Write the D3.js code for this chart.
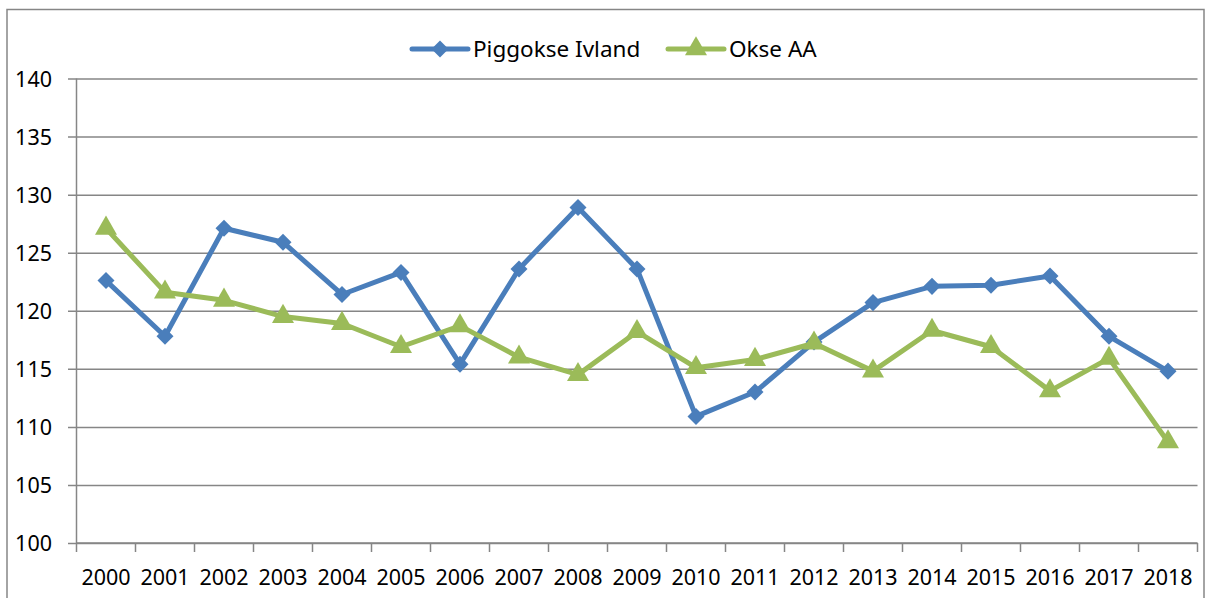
<!DOCTYPE html>
<html>
<head>
<meta charset="utf-8">
<script src="https://cdn.jsdelivr.net/npm/d3@7"></script>
<style>
  body { margin: 0; background: #fff; }
  svg { display: block; }
  text { font-family: "Noto Sans", "Open Sans", sans-serif; fill: #000; }
</style>
</head>
<body>
<svg width="1213" height="598"></svg>
<script>
const width = 1213;
const height = 598;

var years = ["2000","2001","2002","2003","2004","2005","2006","2007","2008","2009",
             "2010","2011","2012","2013","2014","2015","2016","2017","2018"];
var piggokse = [122.6, 117.8, 127.1, 125.9, 121.4, 123.3, 115.4, 123.6, 128.9, 123.6,
                110.9, 113.0, 117.3, 120.7, 122.1, 122.2, 123.0, 117.8, 114.8];
var okse = [127.1, 121.6, 120.9, 119.5, 118.9, 116.9, 118.7, 116.0, 114.5, 118.2,
            115.1, 115.8, 117.2, 114.8, 118.3, 116.9, 113.1, 115.9, 108.7];
var yTicks = [100, 105, 110, 115, 120, 125, 130, 135, 140];
var seriesNames = ["Piggokse Ivland", "Okse AA"];

var blue = "#4a7ebb";
var green = "#9bbb59";
var gray = "#868686";

var svg = d3.select("svg");

// outer chart border
svg.append("rect")
   .attr("x", 7).attr("y", 9.5)
   .attr("width", 1197).attr("height", 600)
   .attr("fill", "none").attr("stroke", gray).attr("stroke-width", 1.5);

var x = d3.scaleBand().domain(years).range([76.5, 1197.5]).padding(0);
var y = d3.scaleLinear().domain([100, 140]).range([543, 78.5]);

// gridlines + y axis labels
var yAxis = d3.axisLeft(y).tickValues(yTicks).tickSize(-(1197.5 - 68));
var gy = svg.append("g").attr("transform", "translate(1197.5,0)").call(yAxis);
gy.select(".domain").remove();
gy.selectAll(".tick line").attr("stroke", gray).attr("stroke-width", 1.5)
  .attr("x1", 0).attr("x2", -(1197.5 - 68));
gy.selectAll(".tick text").attr("x", -(1197.5 - 52)).attr("text-anchor", "end")
  .attr("dy", "0.36em")
  .style("font-size", "21.5px").style("font-family", "Noto Sans, sans-serif").style("fill", "#000");

// vertical axis line
svg.append("line")
   .attr("x1", 76.5).attr("x2", 76.5).attr("y1", y(140)).attr("y2", y(100))
   .attr("stroke", gray).attr("stroke-width", 1.5);

// x axis: ticks at band boundaries
var boundaries = years.map(function (d) { return x(d); }).concat([x.range()[1]]);
svg.selectAll(".xtick").data(boundaries).enter().append("line")
   .attr("x1", function (d) { return d; }).attr("x2", function (d) { return d; })
   .attr("y1", y(100)).attr("y2", y(100) + 9)
   .attr("stroke", gray).attr("stroke-width", 1.5);
svg.append("line")
   .attr("x1", 76.5).attr("x2", 1197.5).attr("y1", y(100)).attr("y2", y(100))
   .attr("stroke", gray).attr("stroke-width", 1.5);
svg.selectAll(".xlabel").data(years).enter().append("text")
   .attr("x", function (d) { return x(d) + x.bandwidth() / 2; })
   .attr("y", 585)
   .attr("text-anchor", "middle")
   .style("font-size", "21.5px")
   .text(function (d) { return d; });

var cx = function (d, i) { return x(years[i]) + x.bandwidth() / 2; };
var line = d3.line().x(cx).y(function (d) { return y(d); });

var diamond = d3.symbol().type(d3.symbolDiamond2).size(185);
var triangle = d3.symbol().type(d3.symbolTriangle).size(210);

function drawSeries(values, color, sym) {
  svg.append("path").datum(values)
     .attr("d", line)
     .attr("fill", "none").attr("stroke", color)
     .attr("stroke-width", 5).attr("stroke-linejoin", "round").attr("stroke-linecap", "round");
  svg.selectAll(null).data(values).enter().append("path")
     .attr("d", sym)
     .attr("transform", function (d, i) { return "translate(" + cx(d, i) + "," + y(d) + ")"; })
     .attr("fill", color);
}

drawSeries(piggokse, blue, diamond);
drawSeries(okse, green, triangle);

// legend
var legend = [
  { name: seriesNames[0], color: blue, sym: diamond, x: 412 },
  { name: seriesNames[1], color: green, sym: triangle, x: 668 }
];
var lg = svg.selectAll(".legend").data(legend).enter().append("g")
   .attr("transform", function (d) { return "translate(" + d.x + ",49)"; });
lg.append("line").attr("x1", 0).attr("x2", 56).attr("y1", 0).attr("y2", 0)
  .attr("stroke", function (d) { return d.color; })
  .attr("stroke-width", 5).attr("stroke-linecap", "round");
lg.append("path").attr("d", function (d) { return d.sym(); })
  .attr("transform", "translate(28,0)")
  .attr("fill", function (d) { return d.color; });
lg.append("text").attr("x", 61).attr("y", 8)
  .style("font-size", "22.5px")
  .text(function (d) { return d.name; });
</script>
</body>
</html>
